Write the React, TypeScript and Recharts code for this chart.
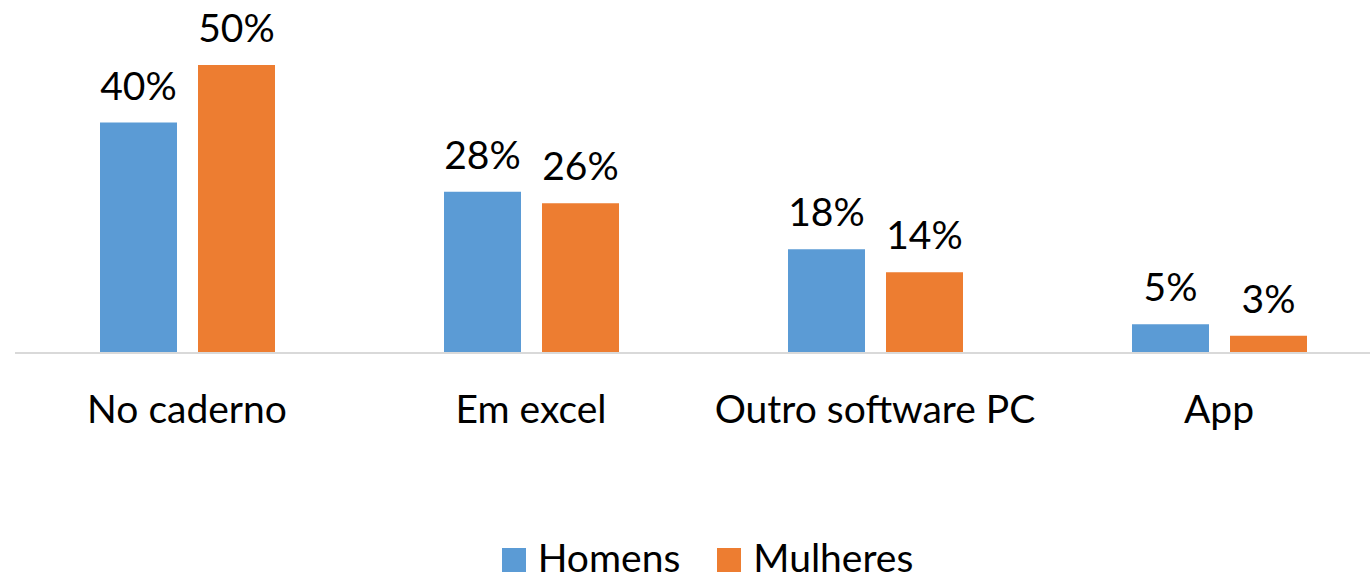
import React from "react";
import { BarChart, Bar, XAxis, YAxis, LabelList } from "recharts";

const categories = ["No caderno", "Em excel", "Outro software PC", "App"];
const homens = [40, 28, 18, 5];
const mulheres = [50, 26, 14, 3];
const seriesNames = ["Homens", "Mulheres"];
const colors = ["#5B9BD5", "#ED7D31"];

const data = categories.map((c, i) => ({ name: c, Homens: homens[i], Mulheres: mulheres[i] }));

const FONT = "Lato, 'Open Sans', sans-serif";

const LegendBox = () => (
  <div
    style={{
      position: "absolute",
      top: 532,
      left: 0,
      width: 1370,
      display: "flex",
      justifyContent: "center",
      alignItems: "center",
      fontFamily: FONT,
      fontSize: 39,
      lineHeight: "50px",
      height: 50,
      color: "#000",
    }}
  >
    {seriesNames.map((n, i) => (
      <div key={n} style={{ display: "flex", alignItems: "center", marginRight: i === 0 ? 37 : 0, paddingLeft: i === 0 ? 45 : 0 }}>
        <span style={{ display: "inline-block", width: 24, height: 24, background: colors[i], marginRight: 12, position: "relative", top: 3 }} />
        <span>{n}</span>
      </div>
    ))}
  </div>
);

export default function App() {
  return (
    <div style={{ position: "absolute", left: 0, top: 0, width: 1370, height: 575, overflow: "hidden", background: "#fff" }}>
      <BarChart
        width={1406}
        height={575}
        data={data}
        margin={{ top: 65, right: 15, bottom: 0, left: 15 }}
        barSize={77}
        barGap={21}
      >
        <YAxis hide domain={[0, 50]} />
        <XAxis
          dataKey="name"
          axisLine={{ stroke: "#D9D9D9", strokeWidth: 2 }}
          tickLine={false}
          tickSize={0}
          tickMargin={42}
          height={222}
          interval={0}
          tick={{ fill: "#000", fontSize: 39, fontFamily: FONT }}
        />
        {seriesNames.map((n, i) => (
          <Bar key={n} dataKey={n} fill={colors[i]} isAnimationActive={false}>
            <LabelList
              dataKey={n}
              position="top"
              offset={23}
              formatter={(v: number) => `${v}%`}
              style={{ fill: "#000", fontSize: 39, fontFamily: FONT }}
            />
          </Bar>
        ))}
      </BarChart>
      <LegendBox />
    </div>
  );
}
